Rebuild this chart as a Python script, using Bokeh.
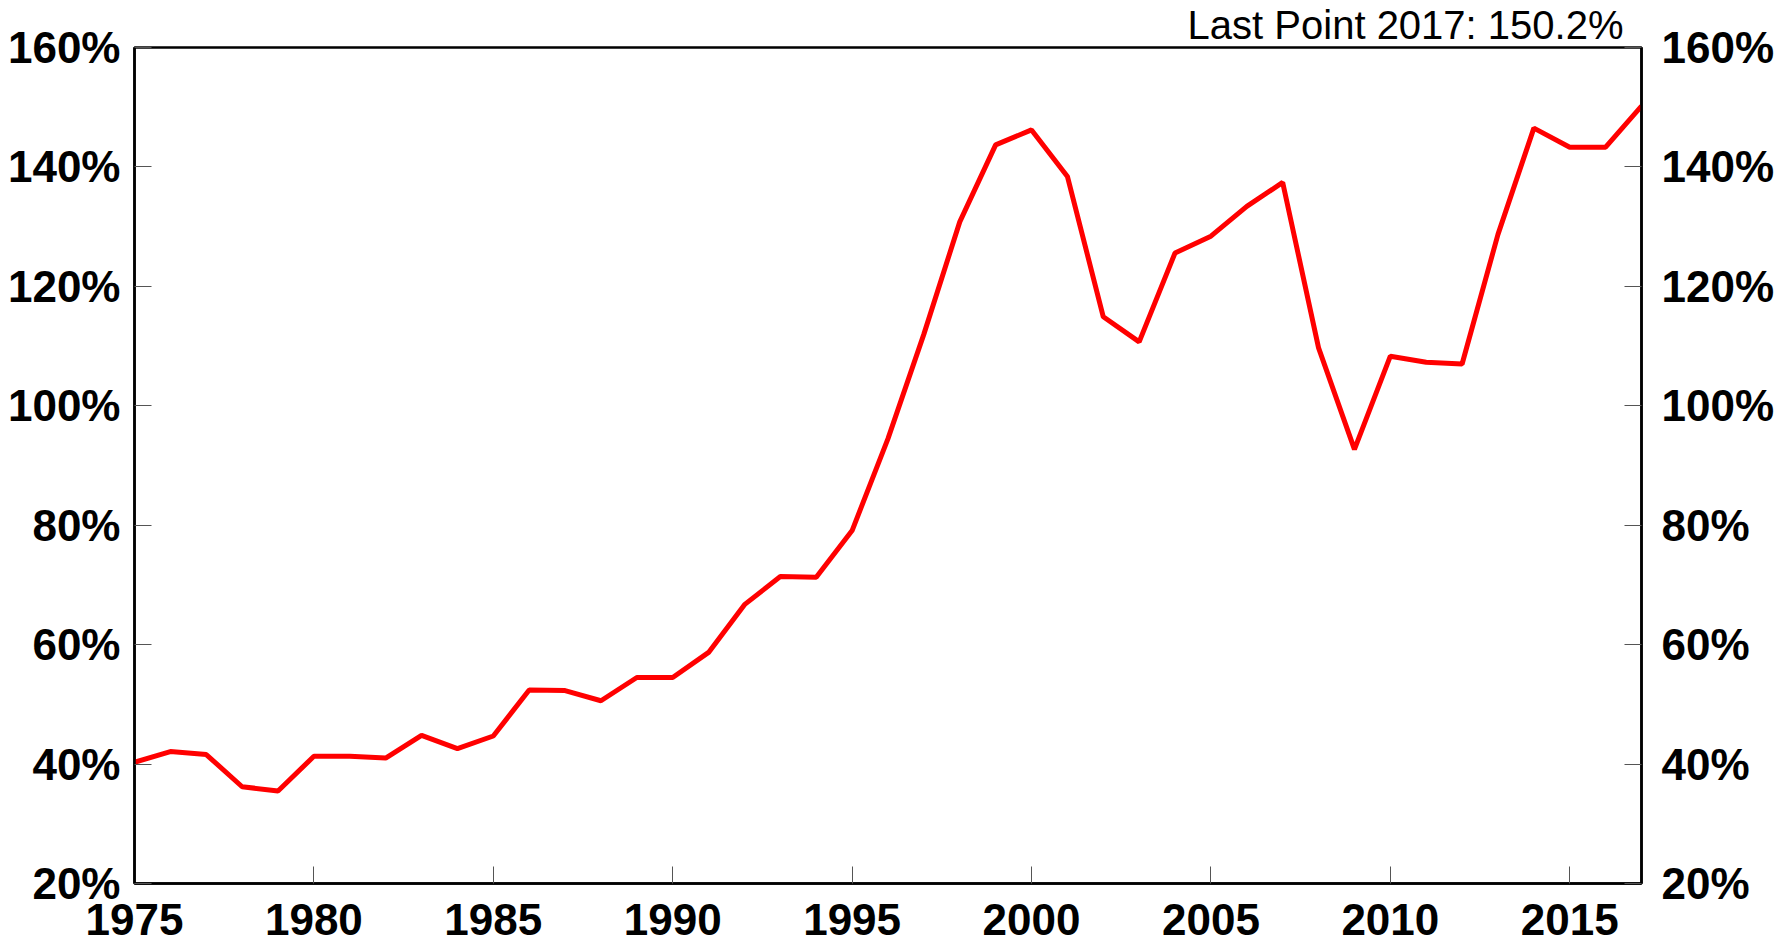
from bokeh.plotting import figure
from bokeh.models import LinearAxis, FixedTicker, PrintfTickFormatter, Range1d
from bokeh.embed import file_html
from bokeh.resources import INLINE

years = list(range(1975, 2018))
values = [40.3, 42.1, 41.6, 36.2, 35.5, 41.3, 41.3, 41.0, 44.8, 42.6,
          44.7, 52.4, 52.3, 50.6, 54.5, 54.5, 58.7, 66.7, 71.4, 71.3,
          79.1, 94.5, 112.0, 130.8, 143.7, 146.2, 138.4, 114.9, 110.7, 125.6,
          128.4, 133.4, 137.4, 109.7, 92.7, 108.3, 107.3, 107.0, 128.7, 146.5,
          143.3, 143.3, 150.2]
x_ticks = [1975, 1980, 1985, 1990, 1995, 2000, 2005, 2010, 2015]
y_ticks = [20, 40, 60, 80, 100, 120, 140, 160]

FONT = "Liberation Sans"

p = figure(width=1791, height=942, output_backend="svg", toolbar_location=None,
           x_range=Range1d(years[0], years[-1]), y_range=Range1d(y_ticks[0], y_ticks[-1]),
           min_border_left=134, min_border_right=150, min_border_top=46, min_border_bottom=59)
p.background_fill_color = "white"
p.border_fill_color = "white"
p.outline_line_color = "black"
p.outline_line_width = 2.5
p.xgrid.visible = False
p.ygrid.visible = False

p.title.text = f"Last Point {years[-1]}: {values[-1]:.1f}%"
p.title.align = "right"
p.title.offset = 18
p.title.standoff = 1
p.title.text_font = FONT
p.title.text_font_style = "normal"
p.title.text_font_size = "40px"
p.title.text_color = "black"

p.line(years, values, line_color="#ff0000", line_width=5)

def style(ax, standoff):
    ax.axis_line_color = "black"
    ax.axis_line_width = 2.5
    ax.major_tick_in = 17
    ax.major_tick_out = 0
    ax.major_tick_line_color = "#555555"
    ax.major_tick_line_width = 1
    ax.minor_tick_line_color = None
    ax.major_label_text_font = FONT
    ax.major_label_text_font_style = "bold"
    ax.major_label_text_font_size = "44px"
    ax.major_label_text_color = "black"
    ax.major_label_standoff = standoff

p.xaxis.ticker = FixedTicker(ticks=x_ticks)
style(p.xaxis[0], 20)
p.yaxis.ticker = FixedTicker(ticks=y_ticks)
p.yaxis.formatter = PrintfTickFormatter(format="%d%%")
style(p.yaxis[0], 14)

right = LinearAxis(ticker=FixedTicker(ticks=y_ticks), formatter=PrintfTickFormatter(format="%d%%"))
style(right, 20)
p.add_layout(right, "right")

open("out.html", "w").write(file_html(p, INLINE))
